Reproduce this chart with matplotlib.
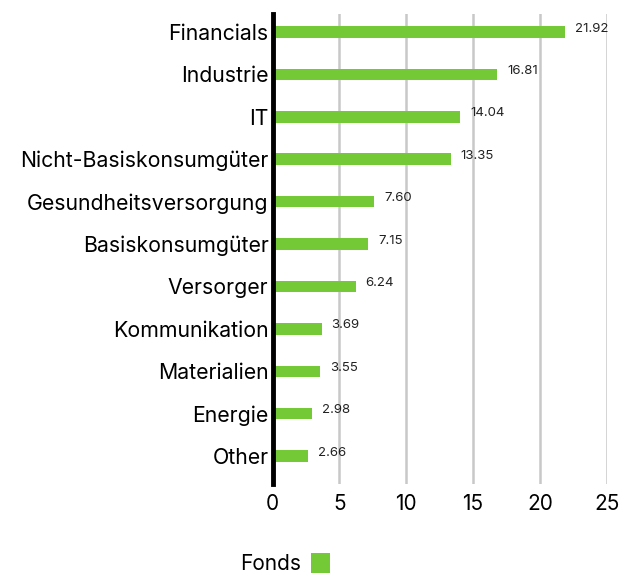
import matplotlib
matplotlib.use("Agg")
import matplotlib.pyplot as plt
from matplotlib.patches import Patch

categories = ["Financials", "Industrie", "IT", "Nicht-Basiskonsumgüter",
              "Gesundheitsversorgung", "Basiskonsumgüter", "Versorger",
              "Kommunikation", "Materialien", "Energie", "Other"]
values = [21.92, 16.81, 14.04, 13.35, 7.60, 7.15, 6.24, 3.69, 3.55, 2.98, 2.66]
xticks = [0, 5, 10, 15, 20, 25]
series_name = "Fonds"

green = "#74c936"
plt.rcParams['font.family'] = ['Inter', 'DejaVu Sans']

fig = plt.figure(figsize=(6.19, 5.76), dpi=100)
ax = fig.add_axes([0.4405, 0.1597, 0.5395, 0.816])

ypos = list(range(len(categories)))
ax.barh(ypos, values, height=0.27, color=green, zorder=3)
for y, v in zip(ypos, values):
    ax.annotate(f"{v:.2f}", (v, y), xytext=(7, 2.5), textcoords="offset points",
                va="center", ha="left", fontsize=9.5, color="#222222")

ax.set_ylim(10.66, -0.425)
ax.set_xlim(0, 25)
ax.set_xticks(xticks)
ax.set_xticklabels([str(t) for t in xticks], fontsize=15)
ax.set_yticks(ypos)
ax.set_yticklabels(categories, fontsize=15.3)
ax.tick_params(axis="both", length=0, pad=3)
ax.tick_params(axis="x", pad=7)
ax.xaxis.grid(True, color="#c8c8c8", linewidth=1.8, zorder=0)
for s in ["top", "right", "bottom"]:
    ax.spines[s].set_visible(False)
ax.spines["left"].set_linewidth(3.5)
ax.spines["left"].set_color("black")
ax.spines["left"].set_zorder(4)

handle = Patch(facecolor=green, edgecolor="none")
fig.legend([handle], [series_name], loc="center", bbox_to_anchor=(0.46, 0.021),
           frameon=False, markerfirst=False, fontsize=15,
           handlelength=0.9, handleheight=1.1, handletextpad=0.5)

fig.savefig("out.png", dpi=100)
